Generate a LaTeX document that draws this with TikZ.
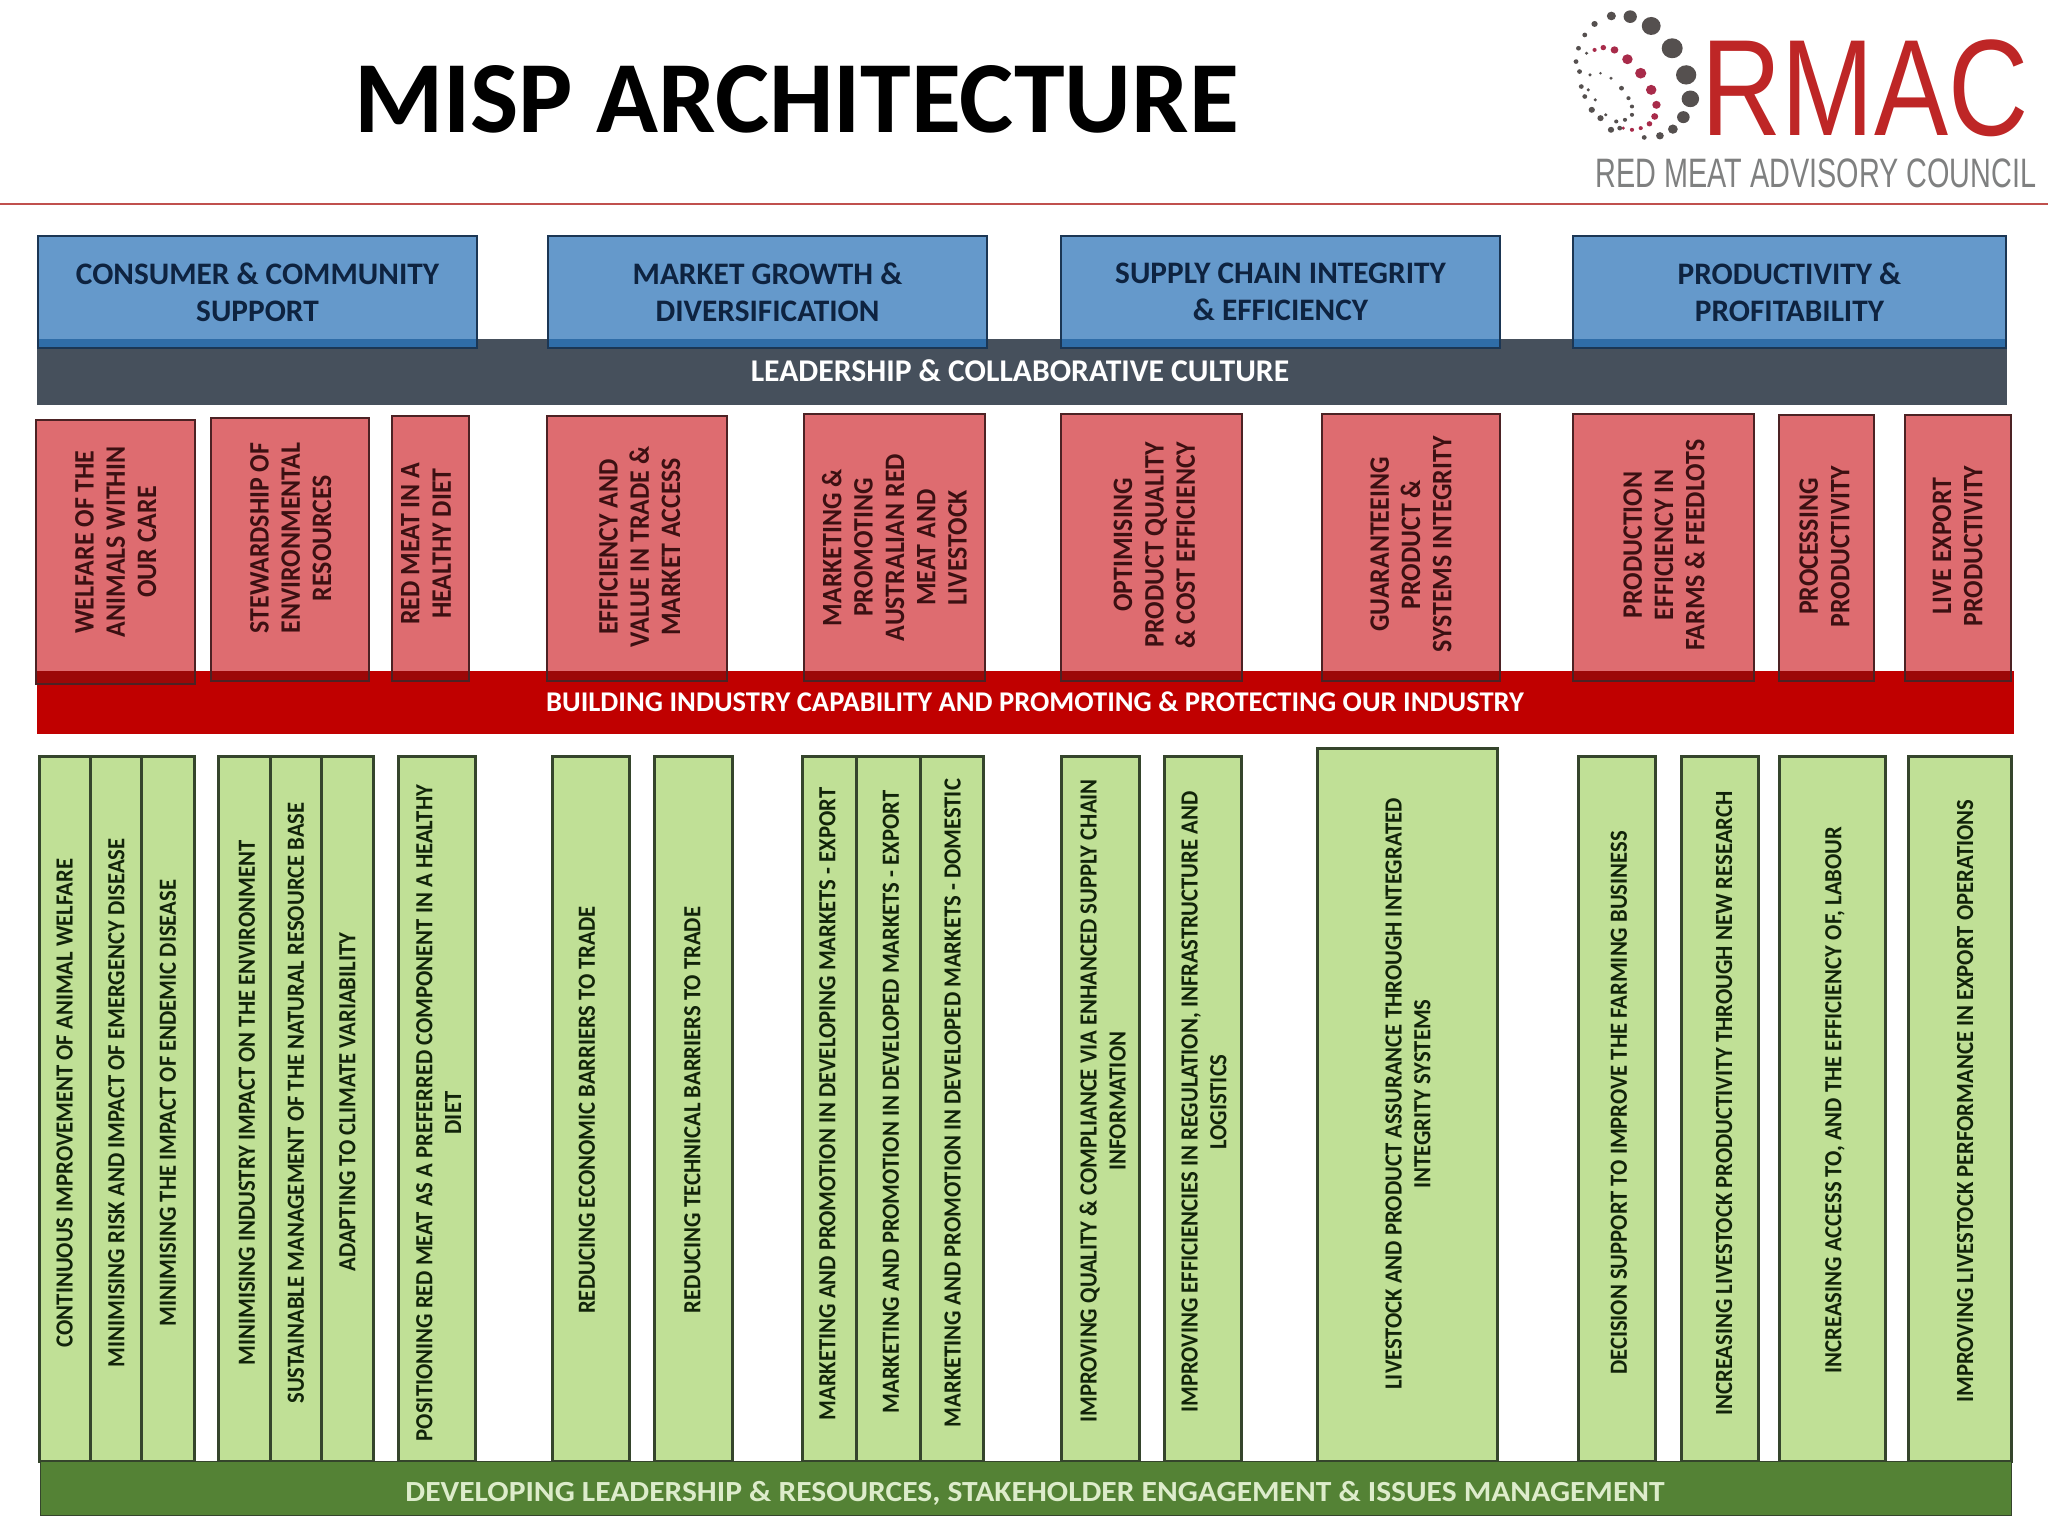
\documentclass[tikz,border=0pt]{standalone}
\usepackage{fontspec}
\setmainfont{Carlito}
\newfontfamily\logofont{Liberation Sans}
\newfontfamily\narrowfont{Carlito}[FakeStretch=0.92]
\newfontfamily\widefont{Carlito}[FakeStretch=1.08]
\definecolor{bluefill}{HTML}{6599CB}
\definecolor{blueover}{HTML}{2F6DA8}
\definecolor{blueline}{HTML}{1B3654}
\definecolor{bluetext}{HTML}{0E2340}
\definecolor{slateband}{HTML}{46505C}
\definecolor{redfill}{HTML}{DE6C70}
\definecolor{redover}{HTML}{9C0808}
\definecolor{redband}{HTML}{C00000}
\definecolor{redline}{HTML}{4C2224}
\definecolor{redtext}{HTML}{3C1012}
\definecolor{greenfill}{HTML}{C0E096}
\definecolor{greenline}{HTML}{35452C}
\definecolor{greentext}{HTML}{12240A}
\definecolor{greenband}{HTML}{548235}
\definecolor{greenword}{HTML}{DDECCB}
\definecolor{rulered}{HTML}{C0504D}
\definecolor{logored}{HTML}{BE2626}
\definecolor{logogrey}{HTML}{7F8080}
\definecolor{dotdark}{HTML}{55504F}
\definecolor{dotred}{HTML}{A82B4A}
\begin{document}
\begin{tikzpicture}[
  x=0.01cm, y=-0.01cm,
  goalbox/.style={rectangle, draw=blueline, fill=bluefill, line width=0.025cm, outer sep=0pt,
    minimum height=1.12cm, text=bluetext, align=center,
    font=\fontsize{8.9}{10.6}\selectfont\bfseries},
  overlap/.style={fill=#1, line width=0.025cm},
  strategybox/.style={rectangle, draw=redline, fill=redfill, line width=0.025cm, outer sep=0pt},
  strategyword/.style={rotate=90, text=redtext, align=center, inner sep=0pt,
    font=\narrowfont\fontsize{8}{8.9}\selectfont\bfseries},
  programbar/.style={rectangle, draw=greenline, fill=greenfill, line width=0.03cm,
    minimum height=7.04cm},
  programword/.style={rotate=90, text=greentext, align=center, inner sep=0pt,
    font=\narrowfont\fontsize{7}{8.2}\selectfont\bfseries},
  bandbox/.style={rectangle, draw=#1, fill=#1, line width=0.01cm, inner sep=0pt},
  bandword/.style={text=white, inner sep=0pt, font=\fontsize{9}{11}\selectfont\bfseries},
  logoword/.style={inner sep=0pt, transform shape},
  logodot/.style={fill=#1}
]
  \useasboundingbox (0,0) rectangle (2048,1536);

  % Heading and logo
  \node[font=\fontsize{29.05}{34}\selectfont\bfseries] (heading) at (796.5,99) {MISP ARCHITECTURE};
  \coordinate (ruleleft) at (0,204);
  \coordinate (ruleright) at (2048,204);
  \draw[rulered, line width=0.02cm] (ruleleft) -- (ruleright);
  \node[logoword, font=\logofont\fontsize{39}{39}\selectfont, text=logored, xscale=0.81] (rmac) at (1865,88) {RMAC};
  \node[logoword, font=\logofont\fontsize{11.7}{12}\selectfont, text=logogrey, xscale=0.7] (council) at (1816,173) {RED MEAT ADVISORY COUNCIL};
  % Spiral of dots, in steps of the logo
  \begin{scope}[shift={(15cm,0cm)}, x=0.0035cm, y=-0.00333cm]
    \foreach \dx/\dy/\dr in {240/105/7, 268/72/9, 316/48/13, 370/50/19, 430/78/27, 490/145/30, 530/225/29, 542/297/25, 522/352/18, 492/388/14, 455/408/11, 410/413/7}
      \fill[logodot=dotdark] (\dx,\dy) circle[radius=\dr];
    \foreach \dx/\dy/\dr in {268/150/6, 293/143/8, 325/150/11, 362/178/15, 400/220/16, 430/270/15, 445/315/12, 440/350/10, 425/372/8, 400/385/6, 375/390/6, 350/385/5}
      \fill[logodot=dotred] (\dx,\dy) circle[radius=\dr];
    \foreach \dx/\dy/\dr in {222/145/7, 215/185/7, 225/215/7, 230/260/7, 240/290/7, 260/330/9, 285/355/9, 315/390/9, 340/385/7, 255/225/5, 285/220/4, 315/235/5, 345/265/7, 365/295/6, 375/320/6, 375/345/6, 355/360/6, 330/365/6, 250/270/5, 270/300/5, 300/345/5, 245/160/5}
      \fill[logodot=dotdark] (\dx,\dy) circle[radius=\dr];
  \end{scope}

  % Bands behind the boxes
  \node[bandbox=slateband, minimum width=19.68cm, minimum height=0.64cm] (cultureband) at (1022,372) {};
  \node[bandbox=redband, minimum width=19.75cm, minimum height=0.61cm] (capabilityband) at (1025.5,702.5) {};

  % The four goals
  \node[goalbox, minimum width=4.39cm] (g1) at (257.5,292) {CONSUMER \& COMMUNITY\\SUPPORT};
  \node[goalbox, minimum width=4.39cm] (g2) at (767.5,292) {MARKET GROWTH \&\\DIVERSIFICATION};
  \node[goalbox, minimum width=4.39cm] (g3) at (1280.5,292) {SUPPLY CHAIN INTEGRITY\\\& EFFICIENCY};
  \node[goalbox, minimum width=4.33cm] (g4) at (1789.5,292) {PRODUCTIVITY \&\\PROFITABILITY};
  \draw[overlap=blueover, draw=blueline] (g1.west |- cultureband.north) -- (g1.south west) -- (g1.south east) -- (g1.east |- cultureband.north);
  \draw[overlap=blueover, draw=blueline] (g2.west |- cultureband.north) -- (g2.south west) -- (g2.south east) -- (g2.east |- cultureband.north);
  \draw[overlap=blueover, draw=blueline] (g3.west |- cultureband.north) -- (g3.south west) -- (g3.south east) -- (g3.east |- cultureband.north);
  \draw[overlap=blueover, draw=blueline] (g4.west |- cultureband.north) -- (g4.south west) -- (g4.south east) -- (g4.east |- cultureband.north);

  % The ten strategies
  \node[strategybox, minimum height=2.64cm, minimum width=1.59cm] (s1) at (115.5,552) {};
  \node[strategybox, minimum height=2.63cm, minimum width=1.58cm] (s2) at (290,549.5) {};
  \node[strategybox, minimum height=2.65cm, minimum width=0.77cm] (s3) at (430.5,548.5) {};
  \node[strategybox, minimum height=2.65cm, minimum width=1.80cm] (s4) at (637,548.5) {};
  \node[strategybox, minimum height=2.67cm, minimum width=1.81cm] (s5) at (894.5,547.5) {};
  \node[strategybox, minimum height=2.67cm, minimum width=1.81cm] (s6) at (1151.5,547.5) {};
  \node[strategybox, minimum height=2.67cm, minimum width=1.78cm] (s7) at (1411,547.5) {};
  \node[strategybox, minimum height=2.67cm, minimum width=1.81cm] (s8) at (1663.5,547.5) {};
  \node[strategybox, minimum height=2.66cm, minimum width=0.95cm] (s9) at (1826.5,548) {};
  \node[strategybox, minimum height=2.66cm, minimum width=1.06cm] (s10) at (1958,548) {};
  \draw[overlap=redover, draw=redline] (s1.west |- capabilityband.north) -- (s1.south west) -- (s1.south east) -- (s1.east |- capabilityband.north);
  \draw[overlap=redover, draw=redline] (s2.west |- capabilityband.north) -- (s2.south west) -- (s2.south east) -- (s2.east |- capabilityband.north);
  \draw[overlap=redover, draw=redline] (s3.west |- capabilityband.north) -- (s3.south west) -- (s3.south east) -- (s3.east |- capabilityband.north);
  \draw[overlap=redover, draw=redline] (s4.west |- capabilityband.north) -- (s4.south west) -- (s4.south east) -- (s4.east |- capabilityband.north);
  \draw[overlap=redover, draw=redline] (s5.west |- capabilityband.north) -- (s5.south west) -- (s5.south east) -- (s5.east |- capabilityband.north);
  \draw[overlap=redover, draw=redline] (s6.west |- capabilityband.north) -- (s6.south west) -- (s6.south east) -- (s6.east |- capabilityband.north);
  \draw[overlap=redover, draw=redline] (s7.west |- capabilityband.north) -- (s7.south west) -- (s7.south east) -- (s7.east |- capabilityband.north);
  \draw[overlap=redover, draw=redline] (s8.west |- capabilityband.north) -- (s8.south west) -- (s8.south east) -- (s8.east |- capabilityband.north);
  \draw[overlap=redover, draw=redline] (s9.west |- capabilityband.north) -- (s9.south west) -- (s9.south east) -- (s9.east |- capabilityband.north);
  \draw[overlap=redover, draw=redline] (s10.west |- capabilityband.north) -- (s10.south west) -- (s10.south east) -- (s10.east |- capabilityband.north);

  % Their labels
  \node[strategyword] (s1word) at (115.8,542) {WELFARE OF THE\\ANIMALS WITHIN\\OUR CARE};
  \node[strategyword] (s2word) at (290.8,538) {STEWARDSHIP OF\\ENVIRONMENTAL\\RESOURCES};
  \node[strategyword] (s3word) at (426,543.6) {RED MEAT IN A\\HEALTHY DIET};
  \node[strategyword] (s4word) at (639.7,547) {EFFICIENCY AND\\VALUE IN TRADE \&\\MARKET ACCESS};
  \node[strategyword] (s5word) at (894.4,547.6) {MARKETING \&\\PROMOTING\\AUSTRALIAN RED\\MEAT AND\\LIVESTOCK};
  \node[strategyword] (s6word) at (1154.4,545) {OPTIMISING\\PRODUCT QUALITY\\\& COST EFFICIENCY};
  \node[strategyword] (s7word) at (1411,544.5) {GUARANTEEING\\PRODUCT \&\\SYSTEMS INTEGRITY};
  \node[strategyword] (s8word) at (1664,545) {PRODUCTION\\EFFICIENCY IN\\FARMS \& FEEDLOTS};
  \node[strategyword] (s9word) at (1824.5,546.7) {PROCESSING\\PRODUCTIVITY};
  \node[strategyword] (s10word) at (1957.6,546) {LIVE EXPORT\\PRODUCTIVITY};

  % The programme bars
  \node[programbar, minimum width=0.51cm] (p1) at (65.5,1109) {};
  \node[programbar, minimum width=0.51cm] (p2) at (116.5,1109) {};
  \node[programbar, minimum width=0.52cm] (p3) at (168,1109) {};
  \node[programbar, minimum width=0.52cm] (p4) at (245,1109) {};
  \node[programbar, minimum width=0.51cm] (p5) at (296.5,1109) {};
  \node[programbar, minimum width=0.51cm] (p6) at (347.5,1109) {};
  \node[programbar, minimum width=0.76cm] (p7) at (437,1109) {};
  \node[programbar, minimum width=0.76cm] (p8) at (591,1109) {};
  \node[programbar, minimum width=0.77cm] (p9) at (693.5,1109) {};
  \node[programbar, minimum width=0.54cm] (p10) at (830,1109) {};
  \node[programbar, minimum width=0.64cm] (p11) at (889,1109) {};
  \node[programbar, minimum width=0.62cm] (p12) at (952,1109) {};
  \node[programbar, minimum width=0.77cm] (p13) at (1100.5,1109) {};
  \node[programbar, minimum width=0.76cm] (p14) at (1203,1109) {};
  \node[programbar, minimum height=7.12cm, minimum width=1.79cm] (p15) at (1407.5,1105) {};
  \node[programbar, minimum width=0.76cm] (p16) at (1617,1109) {};
  \node[programbar, minimum width=0.76cm] (p17) at (1720,1109) {};
  \node[programbar, minimum width=1.05cm] (p18) at (1832.5,1109) {};
  \node[programbar, minimum width=1.02cm] (p19) at (1960,1109) {};

  % Their labels
  \node[programword] (p1word) at (64.7,1103) {CONTINUOUS IMPROVEMENT OF ANIMAL WELFARE};
  \node[programword] (p2word) at (116.3,1103) {MINIMISING RISK AND IMPACT OF EMERGENCY DISEASE};
  \node[programword] (p3word) at (168,1103) {MINIMISING THE IMPACT OF ENDEMIC DISEASE};
  \node[programword] (p4word) at (247,1103) {MINIMISING INDUSTRY IMPACT ON THE ENVIRONMENT};
  \node[programword] (p5word) at (296,1103) {SUSTAINABLE MANAGEMENT OF THE NATURAL RESOURCE BASE};
  \node[programword] (p6word) at (347.5,1102) {ADAPTING TO CLIMATE VARIABILITY};
  \node[programword] (p7word) at (438.7,1113) {POSITIONING RED MEAT AS A PREFERRED COMPONENT IN A HEALTHY\\DIET};
  \node[programword] (p8word) at (587,1110) {REDUCING ECONOMIC BARRIERS TO TRADE};
  \node[programword] (p9word) at (692.5,1110) {REDUCING TECHNICAL BARRIERS TO TRADE};
  \node[programword] (p10word) at (827.5,1104) {MARKETING AND PROMOTION IN DEVELOPING MARKETS - EXPORT};
  \node[programword] (p11word) at (891,1102) {MARKETING AND PROMOTION IN DEVELOPED MARKETS - EXPORT};
  \node[programword] (p12word) at (952.7,1103) {MARKETING AND PROMOTION IN DEVELOPED MARKETS - DOMESTIC};
  \node[programword] (p13word) at (1102.7,1101) {IMPROVING QUALITY \& COMPLIANCE VIA ENHANCED SUPPLY CHAIN\\INFORMATION};
  \node[programword] (p14word) at (1204,1102) {IMPROVING EFFICIENCIES IN REGULATION, INFRASTRUCTURE AND\\LOGISTICS};
  \node[programword] (p15word) at (1408,1094) {LIVESTOCK AND PRODUCT ASSURANCE THROUGH INTEGRATED\\INTEGRITY SYSTEMS};
  \node[programword] (p16word) at (1619,1103) {DECISION SUPPORT TO IMPROVE THE FARMING BUSINESS};
  \node[programword] (p17word) at (1724,1103.5) {INCREASING LIVESTOCK PRODUCTIVITY THROUGH NEW RESEARCH};
  \node[programword] (p18word) at (1835,1100) {INCREASING ACCESS TO, AND THE EFFICIENCY OF, LABOUR};
  \node[programword] (p19word) at (1965,1101) {IMPROVING LIVESTOCK PERFORMANCE IN EXPORT OPERATIONS};

  % Base band and the words on the bands
  \node[bandbox=greenband, draw=greenline, minimum width=19.70cm, minimum height=0.54cm] (issuesband) at (1026,1488) {};
  \node[bandword] (cultureword) at (1020,371) {LEADERSHIP \& COLLABORATIVE CULTURE};
  \node[bandword, font=\fontsize{8.12}{10}\selectfont\bfseries] (capabilityword) at (1035,702) {BUILDING INDUSTRY CAPABILITY AND PROMOTING \& PROTECTING OUR INDUSTRY};
  \node[bandword, text=greenword, font=\widefont\fontsize{8.3}{10}\selectfont\bfseries] (issuesword) at (1035,1493) {DEVELOPING LEADERSHIP \& RESOURCES, STAKEHOLDER ENGAGEMENT \& ISSUES MANAGEMENT};
\end{tikzpicture}
\end{document}
